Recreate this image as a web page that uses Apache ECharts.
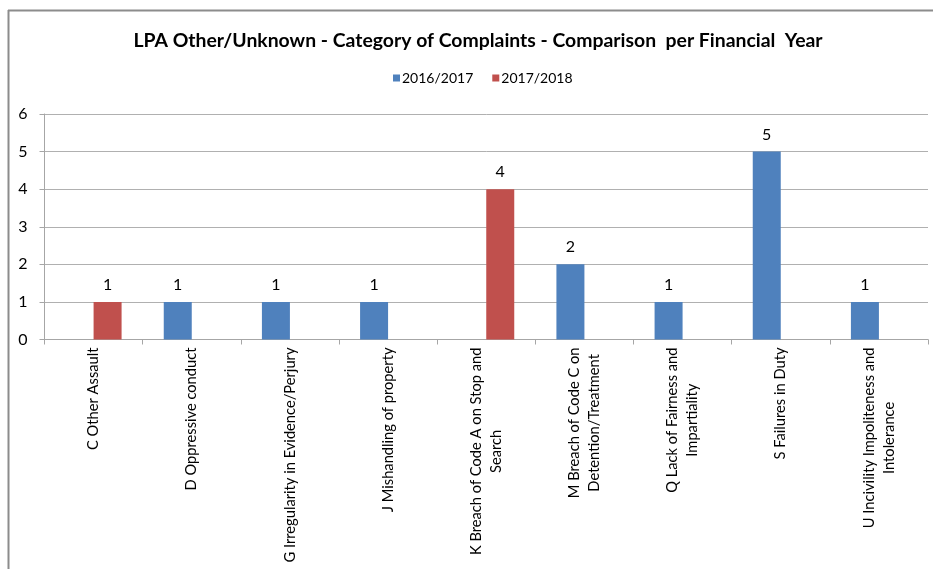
<!DOCTYPE html>
<html>
<head>
<meta charset="utf-8">
<script src="https://cdn.jsdelivr.net/npm/echarts@6/dist/echarts.min.js"></script>
<style>html,body{margin:0;padding:0;background:#fff;}#c{width:933px;height:569px;}</style>
</head>
<body>
<div id="c"></div>
<script>
var categories = [
  "C Other Assault",
  "D Oppressive conduct",
  "G Irregularity in Evidence/Perjury",
  "J Mishandling of property",
  "K Breach of Code A on Stop and\nSearch",
  "M Breach of Code C on\nDetention/Treatment",
  "Q Lack of Fairness and\nImpartiality",
  "S Failures in Duty",
  "U Incivility Impoliteness and\nIntolerance"
];
var series2016 = [null, 1, 1, 1, null, 2, 1, 5, 1];
var series2017 = [1, null, null, null, 4, null, null, null, null];
var seriesNames = ["2016/2017", "2017/2018"];
var yTicks = [0, 1, 2, 3, 4, 5, 6];

var FONT = "Lato";
var chart = echarts.init(document.getElementById('c'), null, {renderer: 'canvas'});
chart.setOption({
  animation: false,
  backgroundColor: '#fff',
  title: {
    text: "LPA Other/Unknown - Category of Complaints - Comparison  per Financial  Year",
    left: 473, top: 26, textAlign: 'center',
    textStyle: {fontFamily: FONT, fontSize: 19.4, fontWeight: 'bold', color: '#000'}
  },
  legend: {
    data: seriesNames,
    left: 388, top: 66,
    itemWidth: 7, itemHeight: 7, itemGap: 19,
    icon: 'rect',
    textStyle: {fontFamily: FONT, fontSize: 14, color: '#000', padding: [0, 0, 0, -3]}
  },
  graphic: [
    {type: 'line', shape: {x1: 8, y1: 10.5, x2: 933, y2: 10.5}, style: {stroke: '#8c8c8c', lineWidth: 2}, silent: true},
    {type: 'line', shape: {x1: 8.5, y1: 10, x2: 8.5, y2: 569}, style: {stroke: '#8c8c8c', lineWidth: 2}, silent: true}
  ],
  grid: {left: 44.5, right: 5, top: 114, bottom: 229.5, containLabel: false},
  xAxis: {
    type: 'category',
    data: categories,
    axisLine: {lineStyle: {color: '#a6a6a6'}},
    axisTick: {show: true, alignWithLabel: false, length: 5, lineStyle: {color: '#a6a6a6'}},
    axisLabel: {
      interval: 0, rotate: 90, margin: 8, color: '#000',
      fontFamily: FONT, fontSize: 14.7, lineHeight: 20,
      formatter: function (v) { return v.split('\n').map(function (s) { return '{c|' + s + '}'; }).join('\n'); },
      rich: {c: {align: 'center', fontFamily: FONT, fontSize: 14.7, lineHeight: 20, color: '#000'}}
    }
  },
  yAxis: {
    type: 'value', min: 0, max: 6, interval: 1,
    axisLine: {show: true, lineStyle: {color: '#a6a6a6'}},
    axisTick: {show: true, length: 5, lineStyle: {color: '#a6a6a6'}},
    splitLine: {lineStyle: {color: '#b0b0b0'}},
    axisLabel: {margin: 17, color: '#000', fontFamily: FONT, fontSize: 16,
      formatter: function (v) { return yTicks.indexOf(v) >= 0 ? String(v) : ''; }}
  },
  series: [
    {name: seriesNames[0], type: 'bar', data: series2016, barWidth: 28, barGap: '0%',
     itemStyle: {color: '#4F81BD'},
     label: {show: true, position: 'top', distance: 9, color: '#000', fontFamily: FONT, fontSize: 16}},
    {name: seriesNames[1], type: 'bar', data: series2017, barWidth: 28, barGap: '0%',
     itemStyle: {color: '#C0504D'},
     label: {show: true, position: 'top', distance: 9, color: '#000', fontFamily: FONT, fontSize: 16}}
  ]
});
</script>
</body>
</html>
